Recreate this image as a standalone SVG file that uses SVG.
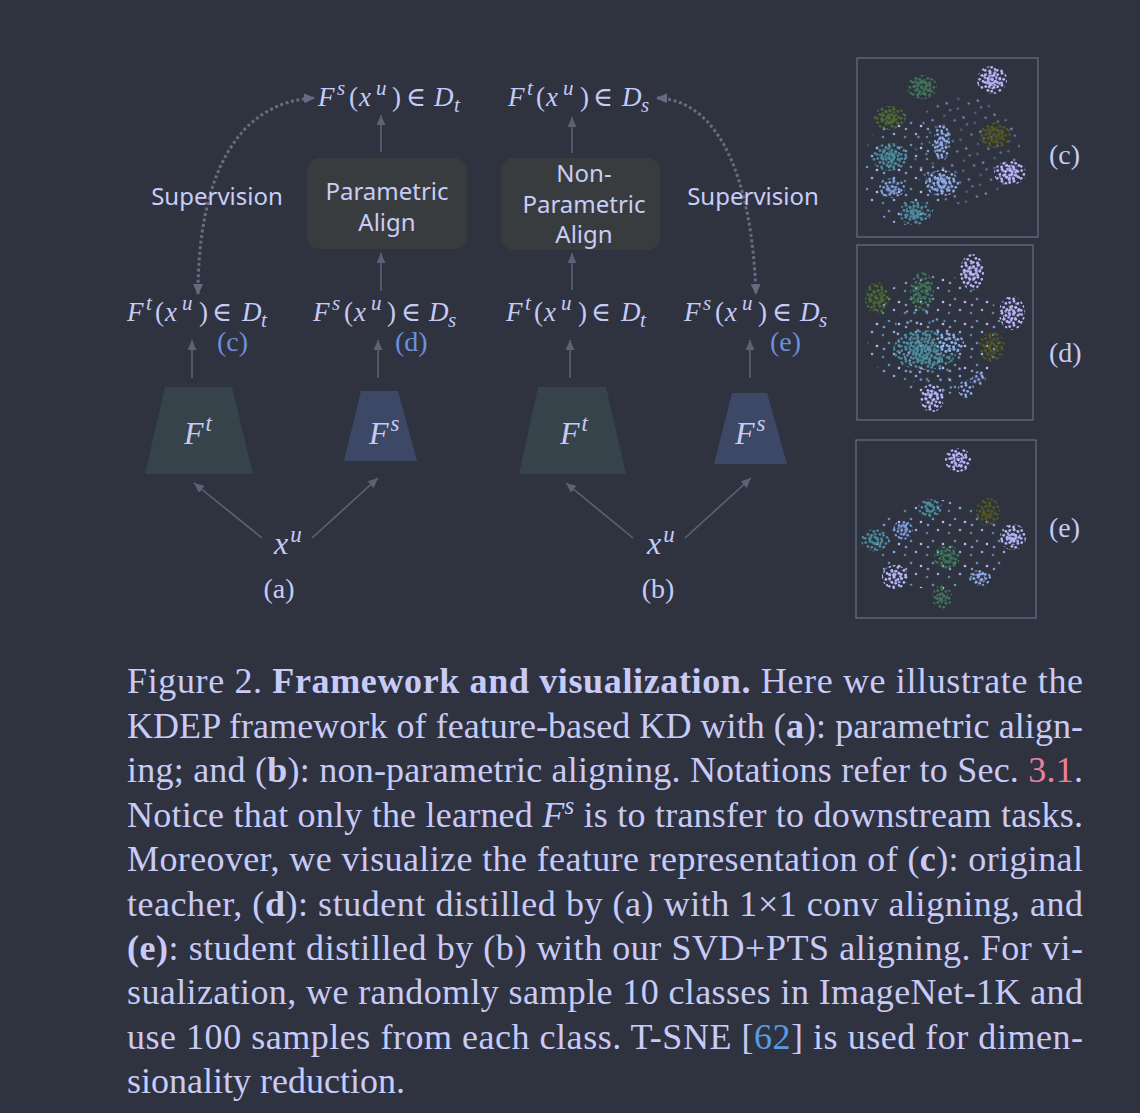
<svg xmlns="http://www.w3.org/2000/svg" width="1140" height="1113" viewBox="0 0 1140 1113">
<style>
.m{font-family:"Liberation Serif","DejaVu Serif",serif;font-style:italic;font-size:27px;fill:#c6cbf6}
.up{font-style:normal}
.sc{font-size:21px}
.lbl{font-family:"Liberation Serif",serif;font-size:28px;fill:#6d8fda}
.sub{font-family:"Liberation Serif",serif;font-size:28px;fill:#c6cbf6}
.sans{font-family:"Noto Sans","Open Sans",sans-serif;font-size:24px;fill:#c9cdf6}
.big{font-family:"Liberation Serif",serif;font-style:italic;font-size:32px;fill:#c6cbf6}
.bigs{font-size:23px}
.cap{font-family:"Liberation Serif",serif;font-size:36px;fill:#c8caf7}
.b{font-weight:bold}
.ln{stroke:#5b6276;stroke-width:1.6;fill:none;marker-end:url(#ah)}
.dot{stroke:#656c82;stroke-width:3;stroke-dasharray:3 2.6;fill:none;marker-start:url(#ad);marker-end:url(#ad)}
.frame{fill:none;stroke:#66718c;stroke-width:1.2}
</style>
<defs>
<marker id="ah" markerUnits="userSpaceOnUse" markerWidth="10" markerHeight="9" refX="10" refY="4.5" orient="auto"><path d="M0,0 L10,4.5 L0,9 z" fill="#5b6276"/></marker>
<marker id="ad" markerUnits="userSpaceOnUse" markerWidth="11" markerHeight="10" refX="10" refY="5" orient="auto-start-reverse"><path d="M0,0 L11,5 L0,10 z" fill="#656c82"/></marker>
<g id="tile"><circle cx="1.7" cy="2.6" r="1.4"/><circle cx="6" cy="1.3" r="1.4"/><circle cx="9.9" cy="3.4" r="1.4"/><circle cx="3.9" cy="6.4" r="1.4"/><circle cx="7.7" cy="7.3" r="1.4"/><circle cx="11.1" cy="9.4" r="1.4"/><circle cx="1.3" cy="10.3" r="1.4"/><circle cx="5.6" cy="10.9" r="1.4"/></g>
<pattern id="pLav" width="12" height="12" patternUnits="userSpaceOnUse"><use href="#tile" fill="#b6b6fa"/></pattern>
<pattern id="pLbl" width="12" height="12" patternUnits="userSpaceOnUse"><use href="#tile" fill="#8eaae8"/></pattern>
<pattern id="pBlu" width="12" height="12" patternUnits="userSpaceOnUse"><use href="#tile" fill="#7a9ad6"/></pattern>
<pattern id="pTea" width="12" height="12" patternUnits="userSpaceOnUse"><use href="#tile" fill="#4c8a9d"/></pattern>
<pattern id="pGrn" width="12" height="12" patternUnits="userSpaceOnUse"><use href="#tile" fill="#3f7558"/></pattern>
<pattern id="pOli" width="12" height="12" patternUnits="userSpaceOnUse"><use href="#tile" fill="#4b6b30"/></pattern>
<pattern id="pDol" width="12" height="12" patternUnits="userSpaceOnUse"><use href="#tile" fill="#52571f"/></pattern>
<pattern id="pMix" width="22" height="22" patternUnits="userSpaceOnUse"><circle cx="3" cy="5" r="1.3" fill="#4c8a9d"/><circle cx="14" cy="2" r="1.3" fill="#8eaae8"/><circle cx="9" cy="13" r="1.3" fill="#5f93b0"/><circle cx="19" cy="16" r="1.3" fill="#b6b6fa"/><circle cx="4" cy="19" r="1.3" fill="#7a9ad6"/></pattern>
</defs>
<rect width="1140" height="1113" fill="#2f3340"/>

<g id="connectors">
<line class="ln" x1="381" y1="152" x2="381" y2="115"/>
<line class="ln" x1="572" y1="153" x2="572" y2="117"/>
<line class="ln" x1="381" y1="291" x2="381" y2="253"/>
<line class="ln" x1="572" y1="290" x2="572" y2="253"/>
<line class="ln" x1="192" y1="378" x2="192" y2="340"/>
<line class="ln" x1="378" y1="378" x2="378" y2="340"/>
<line class="ln" x1="570" y1="378" x2="570" y2="340"/>
<line class="ln" x1="750" y1="378" x2="750" y2="340"/>
<line class="ln" x1="262" y1="538" x2="194" y2="483"/>
<line class="ln" x1="312" y1="538" x2="378" y2="478"/>
<line class="ln" x1="633" y1="538" x2="566" y2="483"/>
<line class="ln" x1="685" y1="538" x2="751" y2="478"/>
<path class="dot" d="M198,294 C198,180 235,102 314,98"/>
<path class="dot" d="M657,98 C720,100 752,180 756,294"/>
</g>

<g id="supervision-left"><text class="sans" x="217" y="205" text-anchor="middle" font-size="25.5">Supervision</text></g>
<g id="supervision-right"><text class="sans" x="753" y="205" text-anchor="middle" font-size="25.5">Supervision</text></g>

<g id="param-align">
<rect x="307" y="158" width="160" height="91" rx="13" fill="#393c3f"/>
<text class="sans" x="387" y="200" text-anchor="middle">Parametric</text>
<text class="sans" x="387" y="231" text-anchor="middle">Align</text>
</g>
<g id="nonparam-align">
<rect x="501" y="158" width="159" height="92" rx="13" fill="#393c3f"/>
<text class="sans" x="584" y="182" text-anchor="middle">Non-</text>
<text class="sans" x="584" y="213" text-anchor="middle">Parametric</text>
<text class="sans" x="584" y="243" text-anchor="middle">Align</text>
</g>

<g id="out-a"><text class="m"><tspan x="318" y="106">F</tspan><tspan class="sc" x="337" y="95">s</tspan><tspan class="up" x="349" y="106">(</tspan><tspan x="359" y="106">x</tspan><tspan class="sc" x="376" y="95">u</tspan><tspan class="up" x="392" y="106">)</tspan><tspan class="up" x="406" y="106">∈</tspan><tspan x="434" y="106">D</tspan><tspan class="sc" x="454" y="112">t</tspan></text></g>
<g id="out-b"><text class="m"><tspan x="508" y="106">F</tspan><tspan class="sc" x="527" y="95">t</tspan><tspan class="up" x="536" y="106">(</tspan><tspan x="546" y="106">x</tspan><tspan class="sc" x="563" y="95">u</tspan><tspan class="up" x="580" y="106">)</tspan><tspan class="up" x="593" y="106">∈</tspan><tspan x="622" y="106">D</tspan><tspan class="sc" x="641" y="112">s</tspan></text></g>

<g id="feat-t-a"><text class="m"><tspan x="127" y="321">F</tspan><tspan class="sc" x="146" y="310">t</tspan><tspan class="up" x="155" y="321">(</tspan><tspan x="165" y="321">x</tspan><tspan class="sc" x="182" y="310">u</tspan><tspan class="up" x="199" y="321">)</tspan><tspan class="up" x="212" y="321">∈</tspan><tspan x="242" y="321">D</tspan><tspan class="sc" x="261" y="327">t</tspan></text><text class="lbl" x="217" y="351">(c)</text></g>
<g id="feat-s-a"><text class="m"><tspan x="313" y="321">F</tspan><tspan class="sc" x="332" y="310">s</tspan><tspan class="up" x="344" y="321">(</tspan><tspan x="354" y="321">x</tspan><tspan class="sc" x="371" y="310">u</tspan><tspan class="up" x="387" y="321">)</tspan><tspan class="up" x="401" y="321">∈</tspan><tspan x="429" y="321">D</tspan><tspan class="sc" x="448" y="327">s</tspan></text><text class="lbl" x="395" y="351">(d)</text></g>
<g id="feat-t-b"><text class="m"><tspan x="506" y="321">F</tspan><tspan class="sc" x="525" y="310">t</tspan><tspan class="up" x="534" y="321">(</tspan><tspan x="544" y="321">x</tspan><tspan class="sc" x="561" y="310">u</tspan><tspan class="up" x="578" y="321">)</tspan><tspan class="up" x="591" y="321">∈</tspan><tspan x="621" y="321">D</tspan><tspan class="sc" x="640" y="327">t</tspan></text></g>
<g id="feat-s-b"><text class="m"><tspan x="684" y="321">F</tspan><tspan class="sc" x="703" y="310">s</tspan><tspan class="up" x="715" y="321">(</tspan><tspan x="725" y="321">x</tspan><tspan class="sc" x="742" y="310">u</tspan><tspan class="up" x="758" y="321">)</tspan><tspan class="up" x="772" y="321">∈</tspan><tspan x="800" y="321">D</tspan><tspan class="sc" x="819" y="327">s</tspan></text><text class="lbl" x="770" y="351">(e)</text></g>

<g id="teacher-a"><polygon points="165,387 232,387 253,474 145,474" fill="#36434a"/><text class="big" x="184" y="444">F<tspan class="bigs" dx="2" dy="-13">t</tspan></text></g>
<g id="student-a"><polygon points="361,391 398,391 417,461 344,461" fill="#3d4866"/><text class="big" x="369" y="444">F<tspan class="bigs" dx="2" dy="-13">s</tspan></text></g>
<g id="teacher-b"><polygon points="538,387 606,387 626,474 519,474" fill="#36434a"/><text class="big" x="560" y="444">F<tspan class="bigs" dx="2" dy="-13">t</tspan></text></g>
<g id="student-b"><polygon points="732,393 767,393 787,464 714,464" fill="#3d4866"/><text class="big" x="735" y="444">F<tspan class="bigs" dx="2" dy="-13">s</tspan></text></g>

<g id="input-a"><text class="big" font-size="30" x="274" y="554">x<tspan class="bigs" dx="2" dy="-12">u</tspan></text><text class="sub" x="279" y="598" text-anchor="middle">(a)</text></g>
<g id="input-b"><text class="big" font-size="30" x="647" y="554">x<tspan class="bigs" dx="2" dy="-12">u</tspan></text><text class="sub" x="658" y="598" text-anchor="middle">(b)</text></g>

<g id="plot-c">
<rect class="frame" x="857" y="58" width="181" height="179"/>
<ellipse cx="905" cy="170" rx="42" ry="55" fill="url(#pMix)"/>
<ellipse cx="965" cy="150" rx="55" ry="55" fill="url(#pMix)" transform="rotate(40 965 150)" opacity="0.6"/>
<g fill="url(#pLav)"><ellipse cx="992" cy="80" rx="15" ry="14"/><ellipse cx="992" cy="80" rx="10" ry="9" transform="rotate(37 992 80)"/><ellipse cx="992" cy="80" rx="6" ry="5" transform="rotate(71 992 80)"/></g>
<g fill="url(#pGrn)"><ellipse cx="922" cy="87" rx="15" ry="12"/><ellipse cx="922" cy="87" rx="10" ry="8" transform="rotate(37 922 87)"/><ellipse cx="922" cy="87" rx="6" ry="5" transform="rotate(71 922 87)"/></g>
<g fill="url(#pOli)"><ellipse cx="890" cy="118" rx="16" ry="12"/><ellipse cx="890" cy="118" rx="10" ry="8" transform="rotate(37 890 118)"/><ellipse cx="890" cy="118" rx="6" ry="5" transform="rotate(71 890 118)"/></g>
<g fill="url(#pDol)"><ellipse cx="995" cy="135" rx="16" ry="13"/><ellipse cx="995" cy="135" rx="10" ry="8" transform="rotate(37 995 135)"/><ellipse cx="995" cy="135" rx="6" ry="5" transform="rotate(71 995 135)"/></g>
<g fill="url(#pLbl)"><ellipse cx="942" cy="142" rx="8" ry="19"/><ellipse cx="942" cy="142" rx="5" ry="12" transform="rotate(37 942 142)"/></g>
<g fill="url(#pTea)"><ellipse cx="890" cy="157" rx="18" ry="14"/><ellipse cx="890" cy="157" rx="12" ry="9" transform="rotate(37 890 157)"/><ellipse cx="890" cy="157" rx="6" ry="5" transform="rotate(71 890 157)"/></g>
<g fill="url(#pLav)"><ellipse cx="1010" cy="173" rx="16" ry="12"/><ellipse cx="1010" cy="173" rx="10" ry="8" transform="rotate(37 1010 173)"/><ellipse cx="1010" cy="173" rx="6" ry="5" transform="rotate(71 1010 173)"/></g>
<g fill="url(#pLbl)"><ellipse cx="942" cy="183" rx="17" ry="13"/><ellipse cx="942" cy="183" rx="11" ry="8" transform="rotate(37 942 183)"/><ellipse cx="942" cy="183" rx="6" ry="5" transform="rotate(71 942 183)"/></g>
<g fill="url(#pBlu)"><ellipse cx="892" cy="188" rx="13" ry="10"/><ellipse cx="892" cy="188" rx="8" ry="6" transform="rotate(37 892 188)"/></g>
<g fill="url(#pTea)"><ellipse cx="915" cy="213" rx="16" ry="12"/><ellipse cx="915" cy="213" rx="10" ry="8" transform="rotate(37 915 213)"/><ellipse cx="915" cy="213" rx="6" ry="5" transform="rotate(71 915 213)"/></g>
</g>

<g id="plot-d">
<rect class="frame" x="857" y="245" width="176" height="175"/>
<ellipse cx="935" cy="335" rx="68" ry="60" fill="url(#pMix)"/>
<ellipse cx="928" cy="350" rx="45" ry="32" fill="url(#pMix)" transform="rotate(60 928 350)"/>
<g fill="url(#pLav)"><ellipse cx="972" cy="272" rx="12" ry="18"/><ellipse cx="972" cy="272" rx="8" ry="12" transform="rotate(37 972 272)"/><ellipse cx="972" cy="272" rx="4" ry="6" transform="rotate(71 972 272)"/></g>
<g fill="url(#pOli)"><ellipse cx="877" cy="298" rx="12" ry="16"/><ellipse cx="877" cy="298" rx="8" ry="10" transform="rotate(37 877 298)"/></g>
<g fill="url(#pGrn)"><ellipse cx="922" cy="292" rx="12" ry="20"/><ellipse cx="922" cy="292" rx="7" ry="12" transform="rotate(37 922 292)"/></g>
<g fill="url(#pLav)"><ellipse cx="1012" cy="313" rx="13" ry="17"/><ellipse cx="1012" cy="313" rx="8" ry="11" transform="rotate(37 1012 313)"/></g>
<g fill="url(#pTea)"><ellipse cx="925" cy="350" rx="32" ry="20"/><ellipse cx="925" cy="350" rx="20" ry="13" transform="rotate(37 925 350)"/><ellipse cx="920" cy="352" rx="10" ry="7" transform="rotate(71 920 352)"/></g>
<g fill="url(#pLbl)"><ellipse cx="950" cy="343" rx="14" ry="11"/></g>
<g fill="url(#pDol)"><ellipse cx="992" cy="347" rx="13" ry="15"/><ellipse cx="992" cy="347" rx="8" ry="9" transform="rotate(37 992 347)"/></g>
<g fill="url(#pLav)"><ellipse cx="932" cy="398" rx="12" ry="14"/><ellipse cx="932" cy="398" rx="7" ry="8" transform="rotate(37 932 398)"/></g>
<g fill="url(#pLbl)"><ellipse cx="966" cy="389" rx="8" ry="9"/><ellipse cx="979" cy="378" rx="7" ry="7" transform="rotate(37 979 378)"/></g>
</g>

<g id="plot-e">
<rect class="frame" x="856" y="440" width="180" height="178"/>
<ellipse cx="940" cy="545" rx="68" ry="45" fill="url(#pMix)"/>
<g fill="url(#pLav)"><ellipse cx="958" cy="460" rx="13" ry="12"/><ellipse cx="958" cy="460" rx="8" ry="7" transform="rotate(37 958 460)"/><ellipse cx="958" cy="460" rx="4" ry="4" transform="rotate(71 958 460)"/></g>
<g fill="url(#pTea)"><ellipse cx="930" cy="508" rx="12" ry="9"/><ellipse cx="930" cy="508" rx="7" ry="5" transform="rotate(37 930 508)"/></g>
<g fill="url(#pDol)"><ellipse cx="988" cy="512" rx="12" ry="14"/><ellipse cx="988" cy="512" rx="7" ry="8" transform="rotate(37 988 512)"/></g>
<g fill="url(#pLav)"><ellipse cx="1013" cy="537" rx="13" ry="13"/><ellipse cx="1013" cy="537" rx="8" ry="8" transform="rotate(37 1013 537)"/><ellipse cx="1013" cy="537" rx="4" ry="4" transform="rotate(71 1013 537)"/></g>
<g fill="url(#pTea)"><ellipse cx="875" cy="540" rx="14" ry="11"/><ellipse cx="875" cy="540" rx="8" ry="7" transform="rotate(37 875 540)"/></g>
<g fill="url(#pBlu)"><ellipse cx="903" cy="530" rx="10" ry="10"/><ellipse cx="903" cy="530" rx="6" ry="6" transform="rotate(37 903 530)"/></g>
<g fill="url(#pGrn)"><ellipse cx="947" cy="557" rx="13" ry="12"/><ellipse cx="947" cy="557" rx="8" ry="7" transform="rotate(37 947 557)"/><ellipse cx="947" cy="557" rx="4" ry="4" transform="rotate(71 947 557)"/></g>
<g fill="url(#pLav)"><ellipse cx="895" cy="577" rx="13" ry="12"/><ellipse cx="895" cy="577" rx="8" ry="7" transform="rotate(37 895 577)"/></g>
<g fill="url(#pLbl)"><ellipse cx="980" cy="578" rx="11" ry="8"/><ellipse cx="980" cy="578" rx="6" ry="5" transform="rotate(37 980 578)"/></g>
<g fill="url(#pGrn)"><ellipse cx="942" cy="597" rx="10" ry="12"/><ellipse cx="942" cy="597" rx="6" ry="7" transform="rotate(37 942 597)"/></g>
</g>

<g id="plot-labels">
<text class="sub" x="1049" y="164">(c)</text>
<text class="sub" x="1049" y="362">(d)</text>
<text class="sub" x="1049" y="537">(e)</text>
</g>

<g id="caption">
<text class="cap" x="127" y="693" textLength="956" lengthAdjust="spacing">Figure 2.  <tspan class="b">Framework and visualization.</tspan>  Here we illustrate the</text>
<text class="cap" x="127" y="738" textLength="956" lengthAdjust="spacing">KDEP framework of feature-based KD with (<tspan class="b">a</tspan>): parametric align-</text>
<text class="cap" x="127" y="782" textLength="956" lengthAdjust="spacing">ing; and (<tspan class="b">b</tspan>): non-parametric aligning. Notations refer to Sec. <tspan fill="#e8809f">3.1</tspan>.</text>
<text class="cap" x="127" y="827" textLength="956" lengthAdjust="spacing">Notice that only the learned <tspan font-style="italic">F</tspan><tspan font-size="25" dy="-13" font-style="italic">s</tspan><tspan dy="13"> is to transfer to downstream tasks.</tspan></text>
<text class="cap" x="127" y="871" textLength="956" lengthAdjust="spacing">Moreover, we visualize the feature representation of (<tspan class="b">c</tspan>):  original</text>
<text class="cap" x="127" y="916" textLength="956" lengthAdjust="spacing">teacher, (<tspan class="b">d</tspan>):  student distilled by (a) with 1×1 conv aligning, and</text>
<text class="cap" x="127" y="960" textLength="956" lengthAdjust="spacing"><tspan class="b">(e)</tspan>:  student distilled by (b) with our SVD+PTS aligning.  For vi-</text>
<text class="cap" x="127" y="1004" textLength="956" lengthAdjust="spacing">sualization, we randomly sample 10 classes in ImageNet-1K and</text>
<text class="cap" x="127" y="1049" textLength="956" lengthAdjust="spacing">use 100 samples from each class.  T-SNE [<tspan fill="#5b9be2">62</tspan>] is used for dimen-</text>
<text class="cap" x="127" y="1093">sionality reduction.</text>
</g>
</svg>
